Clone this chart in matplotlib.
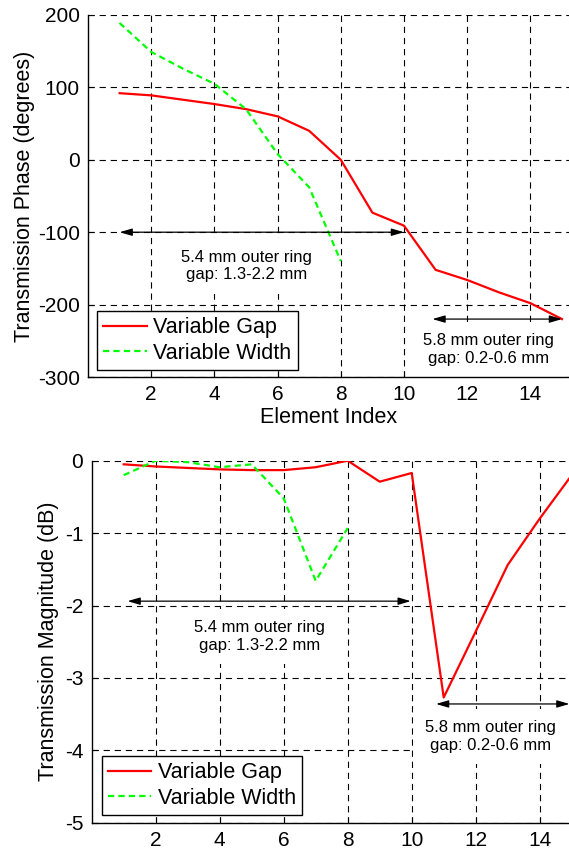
import matplotlib
matplotlib.use("Agg")
import matplotlib.pyplot as plt

plt.rcParams['font.family'] = ['Liberation Sans', 'DejaVu Sans']
plt.rcParams['axes.unicode_minus'] = False
plt.rcParams['lines.scale_dashes'] = False

# ---------------- data ----------------
element_index = [1, 2, 3, 4, 5, 6, 7, 8, 9, 10, 11, 12, 13, 14, 15]
phase_gap = [92, 89, 83, 77, 70, 60, 40, 0, -73, -91, -152, -166, -183, -198, -220]
width_index = [1, 2, 3, 4, 5, 6, 7, 8]
phase_width = [189, 149, 126, 105, 70, 8, -38, -140]

mag_gap = [-0.05, -0.08, -0.10, -0.12, -0.13, -0.13, -0.09, 0.0, -0.29, -0.17,
           -3.27, -2.36, -1.44, -0.80, -0.20]
mag_width = [-0.20, 0.0, -0.02, -0.09, -0.05, -0.52, -1.66, -0.93]

legend_labels = ["Variable Gap", "Variable Width"]
phase_yticks = [-300, -200, -100, 0, 100, 200]
mag_yticks = [-5, -4, -3, -2, -1, 0]
xticks = [2, 4, 6, 8, 10, 12, 14]

text1 = "5.4 mm outer ring\ngap: 1.3-2.2 mm"
text2 = "5.8 mm outer ring\ngap: 0.2-0.6 mm"

# ---------------- figure ----------------
W, H = 569, 850
fig = plt.figure(figsize=(W / 100, H / 100), dpi=100)

ax1 = fig.add_axes([88 / W, 1 - 377 / H, 1 - 88 / W, (377 - 15) / H])
ax2 = fig.add_axes([91.7 / W, 1 - 822.7 / H, 1 - 91.7 / W, (822.7 - 460.7) / H])

red = (1, 0, 0)
green = (0, 1, 0)
tick_fs = 15
label_fs = 15.5
leg_fs = 15.5
ann_fs = 12


def style(ax):
    for s in ['top', 'right']:
        ax.spines[s].set_visible(False)
    for s in ['left', 'bottom']:
        ax.spines[s].set_linewidth(1.0)
        ax.spines[s].set_color('k')
    ax.tick_params(direction='in', length=4, width=0.8, labelsize=tick_fs, pad=6)
    ax.grid(True, color='k', linewidth=0.8, linestyle=(0, (4.5, 3.5)))
    ax.set_axisbelow(True)
    ax.set_xticks(xticks)


def arrow(ax, x0, x1, y):
    ax.annotate('', xy=(x1, y), xytext=(x0, y),
                arrowprops=dict(arrowstyle='<|-|>,head_length=0.75,head_width=0.22',
                                color='k', lw=0.9, shrinkA=0, shrinkB=0,
                                mutation_scale=10),
                annotation_clip=False, zorder=4)


def note(ax, x, y, s):
    ax.text(x, y, s, fontsize=ann_fs, ha='center', va='center',
            multialignment='center', zorder=1.5,
            bbox=dict(boxstyle='square,pad=0.7', facecolor='white', edgecolor='none'))


def legend(ax, offx, offy):
    leg = ax.legend(legend_labels, loc='lower left', fontsize=leg_fs,
                    bbox_to_anchor=(offx, offy), borderaxespad=0,
                    fancybox=False, shadow=False, framealpha=1,
                    handlelength=2.0, handletextpad=0.3, borderpad=0.3,
                    labelspacing=0.2)
    leg.get_frame().set_edgecolor('k')
    leg.get_frame().set_linewidth(1.0)
    leg.set_zorder(5)


# top panel
ax1.plot(element_index, phase_gap, color=red, lw=1.6, clip_on=False, zorder=3)
ax1.plot(width_index, phase_width, color=green, lw=1.6, linestyle=(0, (4.5, 3)), zorder=3)
ax1.set_xlim(0, (W - 88) / 31.6)
ax1.set_ylim(-300, 200)
ax1.set_yticks(phase_yticks)
style(ax1)
ax1.set_xlabel("Element Index", fontsize=label_fs, labelpad=2)
ax1.set_ylabel("Transmission Phase (degrees)", fontsize=label_fs, labelpad=2)
arrow(ax1, 1, 10, -100)
arrow(ax1, 10.9, 15, -220)
note(ax1, 5.02, -147, text1)
note(ax1, 12.67, -262, text2)
legend(ax1, 9 / (W - 88), 7 / 362)

# bottom panel
ax2.plot(element_index, mag_gap, color=red, lw=1.6, zorder=3)
ax2.plot(width_index, mag_width, color=green, lw=1.6, linestyle=(0, (4.5, 3)), zorder=3)
ax2.set_xlim(0, (W - 91.7) / 32)
ax2.set_ylim(-5, 0)
ax2.set_yticks(mag_yticks)
style(ax2)
ax2.set_ylabel("Transmission Magnitude (dB)", fontsize=label_fs, labelpad=4)
arrow(ax2, 1.12, 9.97, -1.94)
arrow(ax2, 10.76, 14.93, -3.36)
note(ax2, 5.25, -2.43, text1)
note(ax2, 12.46, -3.81, text2)
legend(ax2, 10 / (W - 91.7), 7.7 / 362)

fig.savefig("out.png", dpi=100)
